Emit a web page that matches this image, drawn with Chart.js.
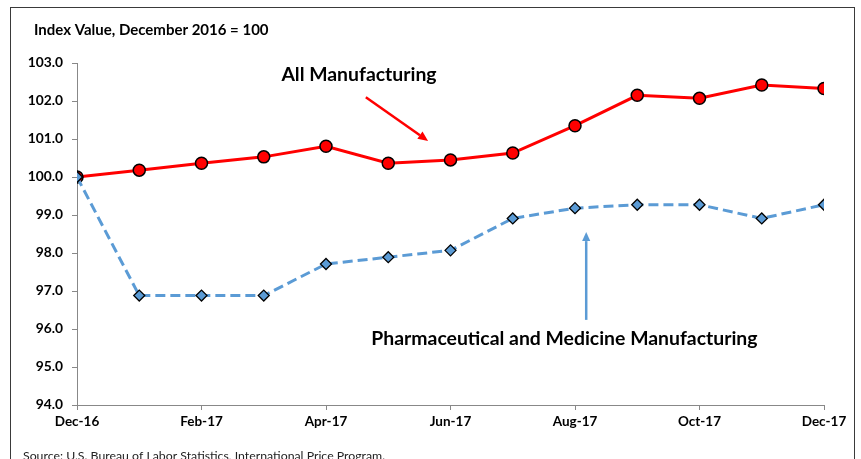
<!DOCTYPE html>
<html>
<head>
<meta charset="utf-8">
<script src="https://cdn.jsdelivr.net/npm/chart.js@4"></script>
<style>
html,body{margin:0;padding:0;background:#fff;}
#wrap{position:relative;width:861px;height:459px;}
</style>
</head>
<body>
<div id="wrap"><canvas id="c" width="861" height="459"></canvas></div>
<script>
const months = ["Dec-16","Jan-17","Feb-17","Mar-17","Apr-17","May-17","Jun-17","Jul-17","Aug-17","Sep-17","Oct-17","Nov-17","Dec-17"];
const allManufacturing = [100.0,100.18,100.36,100.53,100.81,100.36,100.45,100.63,101.35,102.15,102.07,102.42,102.33];
const pharmaManufacturing = [100.0,96.88,96.88,96.88,97.71,97.89,98.07,98.91,99.18,99.27,99.27,98.91,99.27];
const yTicks = [94,95,96,97,98,99,100,101,102,103];
const titleText = "Index Value, December 2016 = 100";
const sourceText = "Source: U.S. Bureau of Labor Statistics, International Price Program.";
const labelAll = "All Manufacturing";
const labelPharma = "Pharmaceutical and Medicine Manufacturing";

const FONT = "Lato, 'Open Sans', sans-serif";

function arrow(ctx, x1, y1, x2, y2, color, w, head) {
  ctx.save();
  ctx.strokeStyle = color; ctx.fillStyle = color; ctx.lineWidth = w;
  const a = Math.atan2(y2 - y1, x2 - x1);
  const bx = x2 - head * Math.cos(a), by = y2 - head * Math.sin(a);
  ctx.beginPath(); ctx.moveTo(x1, y1); ctx.lineTo(bx, by); ctx.stroke();
  ctx.beginPath();
  ctx.moveTo(x2, y2);
  ctx.lineTo(bx + head * 0.45 * Math.sin(a), by - head * 0.45 * Math.cos(a));
  ctx.lineTo(bx - head * 0.45 * Math.sin(a), by + head * 0.45 * Math.cos(a));
  ctx.closePath(); ctx.fill();
  ctx.restore();
}

const decor = {
  id: 'decor',
  beforeDraw(chart) {
    const ctx = chart.ctx;
    ctx.save();
    ctx.fillStyle = '#fff';
    ctx.fillRect(0, 0, chart.width, chart.height);
    ctx.strokeStyle = '#3a3a3a';
    ctx.lineWidth = 1;
    ctx.strokeRect(10.5, 7.5, 844, 480);
    ctx.fillStyle = '#000';
    ctx.font = "bold 15px " + FONT;
    ctx.textBaseline = 'middle';
    ctx.textAlign = 'left';
    ctx.fillText(titleText, 34, 30);
    ctx.font = "12.3px " + FONT;
    ctx.textBaseline = 'alphabetic';
    ctx.fillStyle = '#222';
    ctx.fillText(sourceText, 23, 460);
    ctx.restore();
  },
  afterDatasetsDraw(chart) {
    const ctx = chart.ctx;
    const xs = chart.scales.x, ys = chart.scales.y;
    ctx.save();
    ctx.fillStyle = '#000';
    ctx.font = "bold 19.4px " + FONT;
    ctx.textBaseline = 'middle';
    ctx.textAlign = 'center';
    ctx.fillText(labelAll, xs.getPixelForValue(4.53), ys.getPixelForValue(102.68));
    ctx.fillText(labelPharma, xs.getPixelForValue(7.83), ys.getPixelForValue(95.74));
    arrow(ctx, xs.getPixelForValue(4.64), ys.getPixelForValue(102.1),
               xs.getPixelForValue(5.64), ys.getPixelForValue(100.95), '#FF0000', 2.5, 10);
    arrow(ctx, xs.getPixelForValue(8.18), ys.getPixelForValue(96.24),
               xs.getPixelForValue(8.18), ys.getPixelForValue(98.55), '#5B9BD5', 2.5, 9);
    ctx.restore();
  }
};

new Chart(document.getElementById('c'), {
  type: 'line',
  data: {
    datasets: [
      {
        label: labelAll,
        data: allManufacturing.map((v, i) => ({x: i, y: v})),
        borderColor: '#FF0000',
        borderWidth: 3,
        backgroundColor: '#FF0000',
        pointBackgroundColor: '#FF0000',
        pointBorderColor: '#000',
        pointBorderWidth: 1.5,
        pointRadius: 6,
        pointStyle: 'circle',
        tension: 0,
        order: 2
      },
      {
        label: labelPharma,
        data: pharmaManufacturing.map((v, i) => ({x: i, y: v})),
        borderColor: '#5B9BD5',
        borderWidth: 3,
        borderDash: [10, 5],
        pointBackgroundColor: '#5B9BD5',
        pointBorderColor: '#000',
        pointBorderWidth: 1.3,
        pointRadius: 5.5,
        pointStyle: 'rectRot',
        tension: 0,
        order: 1
      }
    ]
  },
  options: {
    responsive: false,
    animation: false,
    layout: {padding: {left: 0, right: 37, top: 63, bottom: 0}},
    plugins: {legend: {display: false}, tooltip: {enabled: false}, title: {display: false}},
    scales: {
      x: {
        type: 'linear',
        min: 0, max: months.length - 1,
        afterFit(s) { s.height = 54; },
        afterBuildTicks(s) { s.ticks = months.map((m, i) => ({value: i})).filter(t => t.value % 2 === 0); },
        ticks: {
          autoSkip: false,
          maxRotation: 0,
          padding: 4,
          color: '#000',
          font: {family: FONT, size: 13.5, weight: 'bold'},
          callback: (v) => months[v]
        },
        grid: {drawOnChartArea: false, drawTicks: true, tickLength: 5, color: '#888', lineWidth: 1},
        border: {color: '#888', width: 1}
      },
      y: {
        min: 94, max: 103,
        afterFit(s) { s.width = 77; },
        afterBuildTicks(s) { s.ticks = yTicks.map(v => ({value: v})); },
        ticks: {
          color: '#000',
          padding: 9,
          font: {family: FONT, size: 13.8, weight: 'bold'},
          callback: (v) => Number(v).toFixed(1)
        },
        grid: {drawOnChartArea: false, drawTicks: true, tickLength: 5, color: '#888', lineWidth: 1},
        border: {color: '#888', width: 1}
      }
    }
  },
  plugins: [decor]
});
</script>
</body>
</html>
